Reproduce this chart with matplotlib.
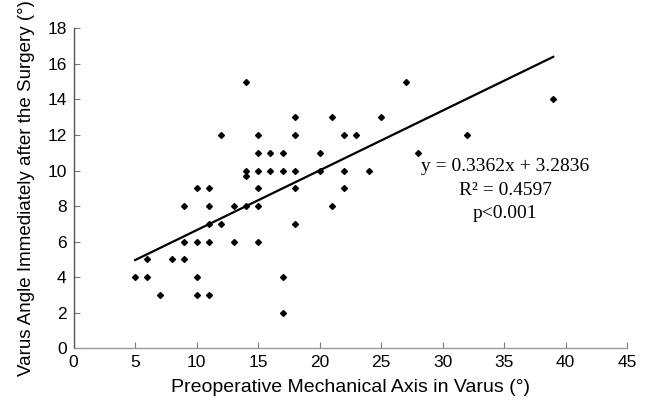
import matplotlib
matplotlib.use("Agg")
import matplotlib.pyplot as plt
import numpy as np

# preoperative mechanical axis (deg) vs varus angle right after surgery (deg)
preop_axis = [5, 6, 6, 7, 8, 9, 9, 9, 10, 10, 10, 10, 11, 11, 11, 11, 11,
              12, 12, 13, 13, 14, 14, 14, 14, 15, 15, 15, 15, 15, 15,
              16, 16, 17, 17, 17, 17, 18, 18, 18, 18, 18, 20, 20,
              21, 21, 22, 22, 22, 23, 24, 25, 27, 28, 32, 39]
postop_varus = [4, 4, 5, 3, 5, 5, 6, 8, 9, 6, 4, 3, 9, 8, 7, 6, 3,
                12, 7, 8, 6, 15, 10, 9.7, 8, 12, 11, 10, 9, 8, 6,
                11, 10, 11, 10, 4, 2, 13, 12, 10, 9, 7, 11, 10,
                13, 8, 12, 10, 9, 12, 10, 13, 15, 11, 12, 14]

slope = 0.3362
intercept = 3.2836
fit_label = ["y = 0.3362x + 3.2836", "R² = 0.4597", "p<0.001"]

x_ticks = list(range(0, 50, 5))
y_ticks = list(range(0, 20, 2))

plt.rcParams['font.family'] = ['Liberation Sans Narrow', 'Liberation Sans', 'DejaVu Sans']

fig = plt.figure(figsize=(6.48, 4.08), dpi=100)
ax = fig.add_axes([0.1137, 0.1463, 0.8539, 0.7843])

ax.plot(preop_axis, postop_varus, linestyle='none', marker='D',
        markersize=3.0, color='black')

fit_x = np.array([min(preop_axis), max(preop_axis)])
ax.plot(fit_x, slope * fit_x + intercept, color='black', linewidth=1.6)

serif = ['Liberation Serif', 'DejaVu Serif']
for txt, yy in zip(fit_label, [10.25, 8.85, 7.6]):
    ax.text(35.1, yy, txt, ha='center', va='center', fontsize=14, family=serif)

ax.set_xlim(0, 45)
ax.set_ylim(0, 18)
ax.set_xticks(x_ticks)
ax.set_yticks(y_ticks)
ax.tick_params(direction='in', length=4, width=0.8, colors='#777777',
               labelcolor='black', labelsize=12.5, pad=5)

for side in ['top', 'right']:
    ax.spines[side].set_visible(False)
ax.spines['left'].set_color('#555555')
ax.spines['bottom'].set_color('#999999')
ax.spines['left'].set_linewidth(1.0)
ax.spines['bottom'].set_linewidth(1.0)

ax.set_xlabel('Preoperative Mechanical Axis in Varus (°)', fontsize=14,
              family=['Liberation Sans', 'DejaVu Sans'], labelpad=6)
ax.set_ylabel('Varus Angle Immediately after the Surgery (°)', fontsize=13.5,
              family=['Liberation Sans', 'DejaVu Sans'], labelpad=9)

fig.savefig('out.png', dpi=100)
